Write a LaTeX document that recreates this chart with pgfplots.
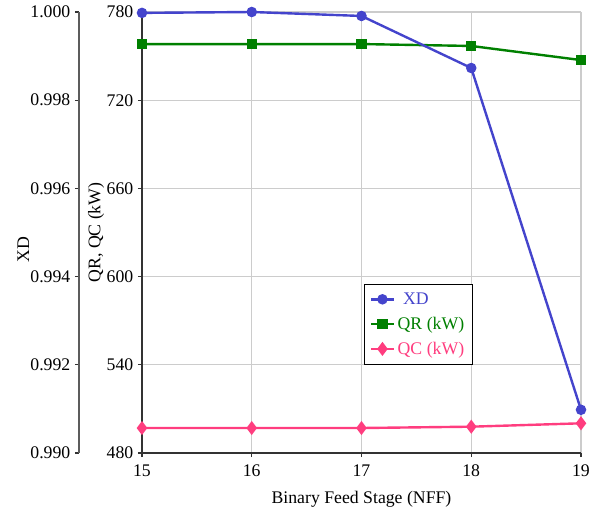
\documentclass[border=0pt]{standalone}
\usepackage{pgfplots}
\pgfplotsset{compat=1.18}
\usepackage{fontspec}
\setmainfont{Liberation Serif}
\definecolor{xdc}{HTML}{4444CC}
\definecolor{qrc}{HTML}{008000}
\definecolor{qcc}{HTML}{FF3D7F}
\definecolor{gridc}{HTML}{CCCCCC}
\definecolor{axc}{HTML}{333333}
\begin{document}
\begin{tikzpicture}
\useasboundingbox (-106.5pt,-44.25pt) rectangle (346.5pt,339.75pt);
\pgfplotsset{
  every axis/.append style={width=329.25pt,height=330.75pt,scale only axis,
    font=\fontsize{13.3}{16}\selectfont,
    /pgf/number format/assume math mode=true,
    tick align=outside, major tick length=3pt, xmin=15, xmax=19},
}
\begin{axis}[
  ymin=480, ymax=780, ytick={480,540,600,660,720,780}, xtick={15,16,17,18,19},
  axis x line*=bottom, axis y line*=left,
  axis line style={axc, line width=0.8pt, -},
  grid=major, grid style={gridc, line width=0.8pt},
  tick style={axc, line width=0.8pt},
  xlabel={Binary Feed Stage (NFF)}, ylabel={QR, QC (kW)},
  xlabel style={yshift=-4pt},
  xticklabel style={yshift=-2pt},
  ylabel style={yshift=-5pt},
  clip=false,
]
\addplot[qrc, line width=1.8pt, mark=square*, mark size=3pt, mark options={solid}]
  coordinates {(15,758.2)(16,758.2)(17,758.2)(18,756.9)(19,747.3)};
\addplot[qcc, line width=1.8pt, mark=diamond*, mark size=3.8pt]
  coordinates {(15,497.0)(16,497.0)(17,497.0)(18,497.9)(19,500.2)};
\end{axis}
\begin{axis}[
  hide axis, ymin=0.990, ymax=1.000, clip=false,
  legend style={at={(0.506,0.383)}, anchor=north west, draw=black, line width=0.6pt,
    font=\fontsize{13.3}{16}\selectfont, fill=white, row sep=4pt,
    inner xsep=4pt, inner ysep=4pt},
  legend cell align=left,
]
\addplot[xdc, line width=1.8pt, mark=*, mark size=3pt]
  coordinates {(15,0.99998)(16,1.00000)(17,0.99991)(18,0.99873)(19,0.99098)};
\addlegendentry{\textcolor{xdc}{\hspace{4pt}XD}}
\addlegendimage{qrc, line width=1.8pt, mark=square*, mark size=3pt}
\addlegendentry{\textcolor{qrc}{QR (kW)}}
\addlegendimage{qcc, line width=1.8pt, mark=diamond*, mark size=3.8pt}
\addlegendentry{\textcolor{qcc}{QC (kW)}}
\end{axis}
\begin{axis}[
  at={(-47.25pt,0pt)},
  axis y line*=left, axis x line=none,
  ymin=0.990, ymax=1.000,
  ytick={0.990,0.992,0.994,0.996,0.998,1.000},
  yticklabel style={/pgf/number format/.cd, fixed, fixed zerofill, precision=3},
  axis line style={axc!80, line width=0.8pt, -},
  tick style={axc, line width=0.8pt},
  ylabel={XD}, ylabel style={xshift=-13pt, yshift=-6pt},
]
\addplot[draw=none] coordinates {(15,0.995)};
\end{axis}
\end{tikzpicture}
\end{document}
